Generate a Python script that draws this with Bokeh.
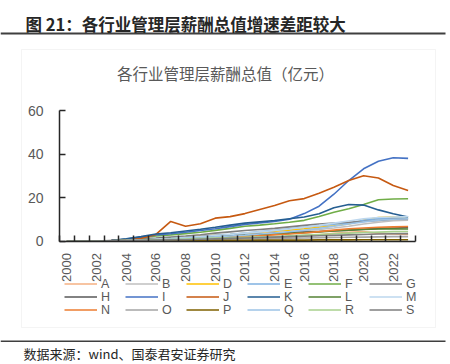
import math
from bokeh.plotting import figure
from bokeh.models import (Range1d, FixedTicker, LinearAxis, Legend, LegendItem,
                          Label, BoxAnnotation)
from bokeh.embed import file_html
from bokeh.resources import INLINE

years = list(range(2000, 2024))
year_labels = [str(y) for y in years]

A = [0, 0, 0, 0.0, 0.1, 0.2, 0.3, 0.4, 0.5, 0.6, 0.8, 1.0, 1.2, 1.4, 1.7, 2.0, 2.4, 2.9, 3.5, 4.0, 4.3, 3.5, 3.2, 3.0]
B = [0, 0, 0, 0.1, 0.3, 0.5, 0.8, 1.1, 1.4, 1.7, 2.0, 2.4, 2.8, 3.2, 3.6, 4.1, 4.7, 5.3, 6.0, 6.8, 7.8, 8.6, 9.3, 9.6]
D = [0, 0, 0, 0.1, 0.4, 0.7, 1.0, 1.4, 1.8, 2.2, 2.6, 3.0, 3.5, 4.0, 4.5, 5.0, 5.6, 6.3, 7.0, 7.8, 9.5, 10.8, 11.0, 10.8]
E = [0, 0, 0, 0.1, 0.3, 0.6, 0.9, 1.3, 1.7, 2.1, 2.6, 3.1, 3.7, 4.3, 4.9, 5.6, 6.3, 7.0, 7.7, 8.3, 9.5, 10.3, 10.5, 10.5]
F = [0, 0, 0, 0.2, 0.8, 1.5, 2.3, 2.8, 3.4, 4.0, 4.9, 5.8, 6.8, 7.3, 7.9, 8.6, 9.5, 11.3, 13.2, 14.8, 16.8, 19.0, 19.3, 19.4]
G = [0, 0, 0, 0.2, 0.5, 0.9, 1.3, 1.8, 2.3, 2.9, 3.6, 4.2, 4.8, 5.3, 5.8, 6.5, 7.2, 7.8, 8.3, 8.6, 9.0, 9.5, 10.0, 10.2]
H = [0, 0, 0, 0.2, 0.4, 0.7, 1.0, 1.3, 1.6, 2.0, 2.3, 2.6, 2.9, 3.2, 3.5, 3.8, 4.1, 4.4, 4.7, 5.0, 5.4, 5.8, 6.0, 6.2]
I = [0, 0, 0, 0.2, 0.9, 1.8, 2.8, 3.3, 4.0, 4.8, 5.6, 6.6, 7.6, 8.3, 9.0, 10.0, 12.6, 16.0, 21.5, 27.8, 33.2, 36.7, 38.3, 38.0]
J = [0, 0, 0, 0.2, 0.6, 1.2, 3.0, 9.0, 6.8, 7.9, 10.5, 11.2, 12.6, 14.5, 16.3, 18.5, 19.5, 22.0, 24.7, 27.8, 30.0, 29.0, 25.5, 23.2]
K = [0, 0, 0, 0.2, 1.0, 2.0, 3.2, 3.8, 4.6, 5.4, 6.3, 7.3, 8.2, 8.8, 9.4, 10.2, 11.0, 12.5, 15.3, 16.8, 16.5, 14.3, 12.5, 11.0]
L = [0, 0, 0, 0.1, 0.3, 0.5, 0.8, 1.1, 1.4, 1.7, 2.0, 2.3, 2.6, 2.9, 3.2, 3.5, 3.8, 4.2, 4.6, 5.0, 5.3, 5.5, 5.6, 5.5]
M = [0, 0, 0, 0.1, 0.3, 0.6, 0.9, 1.2, 1.6, 2.0, 2.5, 3.0, 3.6, 4.2, 4.8, 5.5, 6.3, 7.2, 8.2, 9.2, 10.2, 10.8, 11.0, 11.2]
N = [0, 0, 0, 0.1, 0.2, 0.3, 0.5, 0.7, 0.9, 1.1, 1.4, 1.7, 2.0, 2.4, 2.8, 3.2, 3.7, 4.3, 5.0, 5.6, 6.0, 6.3, 6.5, 6.7]
O = [0, 0, 0, 0.1, 0.2, 0.3, 0.4, 0.5, 0.6, 0.7, 0.8, 0.9, 1.0, 1.1, 1.2, 1.3, 1.4, 1.5, 1.6, 1.7, 1.8, 1.9, 2.0, 2.0]
P = [0, 0, 0, 0.0, 0.1, 0.1, 0.2, 0.2, 0.2, 0.3, 0.3, 0.3, 0.3, 0.4, 0.4, 0.4, 0.4, 0.5, 0.5, 0.5, 0.6, 0.6, 0.6, 0.6]
Q = [0, 0, 0, 0.1, 0.2, 0.4, 0.6, 0.9, 1.2, 1.5, 1.9, 2.3, 2.7, 3.2, 3.7, 4.3, 5.0, 5.8, 6.8, 7.8, 8.8, 9.6, 10.0, 10.2]
R = [0, 0, 0, 0.1, 0.2, 0.3, 0.5, 0.7, 0.9, 1.1, 1.3, 1.5, 1.7, 1.9, 2.1, 2.4, 2.7, 3.0, 3.3, 3.6, 3.9, 4.1, 4.3, 4.4]
S = [0, 0, 0, 0.1, 0.2, 0.3, 0.4, 0.5, 0.6, 0.8, 1.0, 1.2, 1.4, 1.6, 1.8, 2.0, 2.2, 2.4, 2.6, 2.8, 3.0, 3.2, 3.3, 3.4]

names = ["A", "B", "D", "E", "F", "G", "H", "I", "J", "K", "L", "M", "N", "O", "P", "Q", "R", "S"]
values = [A, B, D, E, F, G, H, I, J, K, L, M, N, O, P, Q, R, S]
colors = ["#F4B183", "#BFBFBF", "#FFC000", "#7FB1E0", "#70AD47", "#7F7F7F",
          "#595959", "#4472C4", "#C65911", "#255E91", "#548235", "#BDD7EE",
          "#ED7D31", "#A5A5A5", "#7F6000", "#9DC3E6", "#A9D18E", "#7F7F7F"]
legend_rows = [["A", "B", "D", "E", "F", "G"],
               ["H", "I", "J", "K", "L", "M"],
               ["N", "O", "P", "Q", "R", "S"]]

header = "图 21：各行业管理层薪酬总值增速差距较大"
chart_title = "各行业管理层薪酬总值（亿元）"
source = "数据来源：wind、国泰君安证券研究"

Y_MIN, Y_MAX = 0, 60
xs = list(range(len(years)))

# canvas geometry (pixels)
W, H_ = 450, 364
PL, PR, PT, PB = 59.0, 415.0, 110.0, 240.5   # plot area edges
n = len(years)
xu = (PR - PL) / n                  # px per category
yu = (PB - PT) / (Y_MAX - Y_MIN)    # px per unit
x0 = -0.5 - PL / xu
x1 = -0.5 + (W - PL) / xu
y1 = Y_MIN + PB / yu
y0 = Y_MIN - (H_ - PB) / yu

p = figure(width=W, height=H_, output_backend="svg", toolbar_location=None,
           x_range=Range1d(x0, x1), y_range=Range1d(y0, y1),
           x_axis_type=None, y_axis_type=None,
           min_border_left=0, min_border_right=0, min_border_top=0, min_border_bottom=0)
p.outline_line_color = None
p.background_fill_color = "white"
p.border_fill_color = "white"
p.xgrid.visible = False
p.ygrid.visible = False

AX = "#262626"
LBL = "#595959"

def sy(page_y):
    return H_ - page_y

# chart frame border
p.add_layout(BoxAnnotation(left=21, right=435, top=sy(49), bottom=sy(327),
                           left_units="screen", right_units="screen",
                           top_units="screen", bottom_units="screen",
                           fill_alpha=0, line_color="#D9D9D9", line_width=1, level="underlay"))
# header rule and bottom rule
p.add_layout(BoxAnnotation(left=0, right=445, top=sy(32), bottom=sy(34),
                           left_units="screen", right_units="screen",
                           top_units="screen", bottom_units="screen",
                           fill_color="#3F3F3F", fill_alpha=1, line_color=None))
p.add_layout(BoxAnnotation(left=0, right=445, top=sy(340), bottom=sy(341.5),
                           left_units="screen", right_units="screen",
                           top_units="screen", bottom_units="screen",
                           fill_color="#3F3F3F", fill_alpha=1, line_color=None))

rends = {}
for nm, v, c in zip(names, values, colors):
    rends[nm] = p.line(xs, v, line_color=c, line_width=1.6)

yax = LinearAxis(ticker=FixedTicker(ticks=[0, 20, 40, 60]), fixed_location=-0.5,
                 bounds=(Y_MIN, Y_MAX), major_tick_in=6, major_tick_out=0,
                 minor_tick_line_color=None, axis_line_color=AX, axis_line_width=1.5,
                 major_tick_line_color=AX, major_tick_line_width=1.5,
                 major_label_standoff=16, major_label_text_font="Liberation Sans",
                 major_label_text_font_size="14px", major_label_text_color=LBL)
p.add_layout(yax, "left")

tick_axis = LinearAxis(ticker=FixedTicker(ticks=[i - 0.5 for i in range(n + 1)]),
                       fixed_location=Y_MIN, bounds=(-0.5, n - 0.5),
                       major_tick_in=6, major_tick_out=0, minor_tick_line_color=None,
                       axis_line_color=AX, axis_line_width=1.5,
                       major_tick_line_color=AX, major_tick_line_width=1.5,
                       major_label_overrides={i - 0.5: "" for i in range(n + 1)},
                       major_label_text_font_size="1px", major_label_standoff=0)
p.add_layout(tick_axis, "below")

lab_axis = LinearAxis(ticker=FixedTicker(ticks=list(range(0, n, 2))), fixed_location=Y_MIN,
                      major_label_overrides={i: year_labels[i] for i in range(0, n, 2)},
                      major_tick_in=0, major_tick_out=0, minor_tick_line_color=None,
                      axis_line_color=None, major_tick_line_color=None,
                      major_label_orientation=math.pi / 2, major_label_standoff=12,
                      major_label_text_font="Liberation Sans", major_label_text_font_size="13px",
                      major_label_text_color=LBL)
p.add_layout(lab_axis, "below")

row_centers = [284, 297, 310]
for row, yc in zip(legend_rows, row_centers):
    leg = Legend(items=[LegendItem(label=nm, renderers=[rends[nm]]) for nm in row],
                 orientation="horizontal", location=(64, sy(yc) - 6.5), padding=0, margin=0,
                 spacing=5, glyph_width=33, glyph_height=13, label_height=13,
                 label_width=19, label_standoff=4, background_fill_alpha=0,
                 border_line_alpha=0, label_text_font="Liberation Sans",
                 label_text_font_size="12.5px", label_text_color=LBL)
    p.add_layout(leg)

p.add_layout(Label(x=25, y=sy(23), x_units="screen", y_units="screen", text=header,
                   text_font="Noto Sans CJK SC", text_font_size="16.5px", text_font_style="bold",
                   text_color="#262626", text_align="left", text_baseline="middle"))
p.add_layout(Label(x=225, y=sy(72), x_units="screen", y_units="screen", text=chart_title,
                   text_font="Noto Sans CJK SC", text_font_size="15.5px",
                   text_color=LBL, text_align="center", text_baseline="middle"))
p.add_layout(Label(x=23, y=sy(353), x_units="screen", y_units="screen", text=source,
                   text_font="Noto Sans CJK SC", text_font_size="13px",
                   text_color="#262626", text_align="left", text_baseline="middle"))

open("out.html", "w").write(file_html(p, INLINE))
